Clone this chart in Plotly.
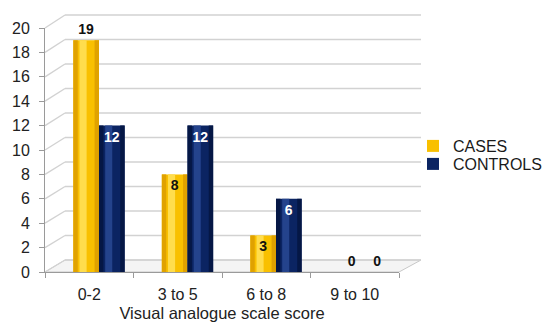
import plotly.graph_objects as go

categories = ["0-2", "3 to 5", "6 to 8", "9 to 10"]
cases = [19, 8, 3, 0]
controls = [12, 12, 6, 0]
y_ticks = list(range(0, 21, 2))

W, H = 547, 322
# front axis frame (pixels)
FX0, FX1 = 45, 399
FY0, FY20 = 272, 28
# back wall frame (pixels)
BX0, BX1 = 65, 421
BY0, BY20 = 260, 15

def px(x):
    return x / W

def py(y):
    return 1 - y / H

def fy(v):
    return FY0 + (FY20 - FY0) * v / 20.0

def by(v):
    return BY0 + (BY20 - BY0) * v / 20.0

YELLOW = "#F9C000"
YELLOW_HI = "#FFDD4D"
YELLOW_DK = "#E0A200"
NAVY = "#0B2462"
NAVY_HI = "#24438C"
NAVY_DK = "#051745"

W_BAR = 0.29
OFF_C = -0.18
OFF_K = 0.11
FONT = "Liberation Sans"

fig = go.Figure()

def cyl(values, offset, base, dk, hi, name, legend):
    fig.add_trace(go.Bar(x=categories, y=values, width=W_BAR, offset=offset,
                         marker=dict(color=base, line=dict(width=0)), name=name,
                         showlegend=True, legend=legend, hoverinfo="skip"))
    fig.add_trace(go.Bar(x=categories, y=values, width=0.05, offset=offset,
                         marker=dict(color=dk, line=dict(width=0)),
                         showlegend=False, hoverinfo="skip"))
    fig.add_trace(go.Bar(x=categories, y=values, width=0.05, offset=offset + W_BAR - 0.05,
                         marker=dict(color=dk, line=dict(width=0)),
                         showlegend=False, hoverinfo="skip"))
    fig.add_trace(go.Bar(x=categories, y=values, width=0.08, offset=offset + 0.07,
                         marker=dict(color=hi, line=dict(width=0)),
                         showlegend=False, hoverinfo="skip"))

cyl(cases, OFF_C, YELLOW, YELLOW_DK, YELLOW_HI, "CASES", "legend")
cyl(controls, OFF_K, NAVY, NAVY_DK, NAVY_HI, "CONTROLS", "legend2")

def labels(values, offset, inside_color):
    pos = ["outside" if (v >= 18 or v == 0) else "inside" for v in values]
    fig.add_trace(go.Bar(x=categories, y=values, width=W_BAR, offset=offset,
                         marker=dict(color="rgba(0,0,0,0)", line=dict(width=0)),
                         text=[str(v) for v in values], textposition=pos,
                         insidetextanchor="end", textangle=0,
                         insidetextfont=dict(color=inside_color, size=14, family=FONT),
                         outsidetextfont=dict(color="#111111", size=14, family=FONT),
                         texttemplate="<b>%{text}</b>",
                         cliponaxis=False, showlegend=False, hoverinfo="skip"))

labels(cases, OFF_C, "#111111")
labels(controls, OFF_K, "#FFFFFF")

shapes = []
GRID = "#d2d2d2"
# floor
shapes.append(dict(type="path", xref="paper", yref="paper",
                   path=f"M{px(FX0)},{py(FY0)} L{px(FX1)},{py(FY0)} L{px(BX1)},{py(BY0)} L{px(BX0)},{py(BY0)} Z",
                   fillcolor="#f4f4f4", line=dict(color="#c8c8c8", width=1), layer="below"))
for v in y_ticks:
    shapes.append(dict(type="line", xref="paper", yref="paper",
                       x0=px(BX0), x1=px(BX1), y0=py(by(v)), y1=py(by(v)),
                       line=dict(color=GRID, width=1.6), layer="below"))
    shapes.append(dict(type="line", xref="paper", yref="paper",
                       x0=px(FX0), x1=px(BX0), y0=py(fy(v)), y1=py(by(v)),
                       line=dict(color=GRID, width=1.4), layer="below"))

leg_common = dict(xanchor="left", yanchor="middle",
                  font=dict(size=16, color="#1a1a1a"), bgcolor="rgba(0,0,0,0)",
                  itemclick=False, itemdoubleclick=False)

fig.update_layout(
    width=W, height=H,
    margin=dict(l=0, r=0, t=0, b=0, autoexpand=False),
    paper_bgcolor="white", plot_bgcolor="rgba(0,0,0,0)",
    barmode="overlay",
    shapes=shapes,
    font=dict(family=FONT, size=16, color="#222222"),
    xaxis=dict(domain=[px(FX0), px(FX1)], type="category", tickson="boundaries",
               automargin=False,
               ticks="outside", ticklen=5, tickcolor="#9a9a9a",
               showline=True, linecolor="#9a9a9a", linewidth=1,
               showgrid=False, ticklabelstandoff=8,
               tickfont=dict(size=16, color="#222222"),
               title=dict(text="Visual analogue scale score", standoff=6,
                          font=dict(size=16.5, color="#222222"))),
    yaxis=dict(domain=[py(FY0), py(FY20)], range=[0, 20], tickvals=y_ticks,
               automargin=False,
               ticks="outside", ticklen=5, tickcolor="#9a9a9a",
               showline=True, linecolor="#9a9a9a", linewidth=1,
               showgrid=False, zeroline=False, ticklabelstandoff=6,
               tickfont=dict(size=16, color="#222222")),
    legend=dict(x=px(413), y=py(146), **leg_common),
    legend2=dict(x=px(413), y=py(164), **leg_common),
    showlegend=True,
)

fig.write_html("out.html")
